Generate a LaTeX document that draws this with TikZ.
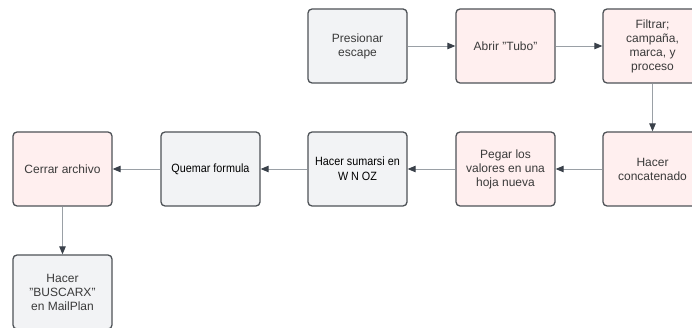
\documentclass[tikz,border=0pt]{standalone}
\usepackage{fontspec}
\setmainfont{Liberation Sans}
\newfontfamily\narrowfont[FakeStretch=0.9]{Liberation Sans}
\usetikzlibrary{arrows.meta}
\definecolor{boxgray}{HTML}{F2F3F5}
\definecolor{boxpink}{HTML}{FFEFEF}
\definecolor{boxline}{HTML}{4E5257}
\definecolor{linkline}{HTML}{9AA0A6}
\definecolor{tipcol}{HTML}{3A414A}
\definecolor{txt}{HTML}{3A3A3A}
\tikzset{
  stepbox/.style={draw=boxline, line width=1.3pt, rounded corners=4pt,
    minimum width=99pt, minimum height=74pt, align=center,
    font=\fontsize{12}{14}\selectfont, text=txt, inner sep=1pt},
  graybox/.style={stepbox, fill=boxgray},
  pinkbox/.style={stepbox, fill=boxpink},
  narrowtxt/.style={font=\narrowfont\fontsize{12}{15}\selectfont, text=black},
  link/.style={draw=linkline, line width=0.9pt,
    -{Triangle[length=8pt,width=6.5pt,color=tipcol]}},
}
\begin{document}
\begin{tikzpicture}[x=1pt,y=-1pt]
\useasboundingbox (0,0) rectangle (692,328);
\fill[white] (0,0) rectangle (692,328);
% row 1
\node[graybox] (presionar) at (357.5,46) {Presionar\\escape};
\node[pinkbox] (abrir) at (505.5,46) {Abrir "Tubo"};
\node[pinkbox] (filtrar) at (652.5,46) {Filtrar;\\campaña,\\marca, y\\proceso};
% row 2
\node[pinkbox] (concat) at (652.5,169) {Hacer\\concatenado};
\node[pinkbox] (pegar) at (505.5,169) {Pegar los\\valores en una\\hoja nueva};
\node[graybox, narrowtxt] (sumarsi) at (357.5,169) {Hacer sumarsi en\\W N OZ};
\node[graybox, narrowtxt] (quemar) at (210.5,169) {Quemar formula};
\node[pinkbox] (cerrar) at (62.5,169) {Cerrar archivo};
% row 3
\node[graybox] (buscarx) at (62.5,292) {Hacer\\"BUSCARX"\\en MailPlan};
% connectors
\draw[link] (presionar) -- (abrir);
\draw[link] (abrir) -- (filtrar);
\draw[link] (filtrar) -- (concat);
\draw[link] (concat) -- (pegar);
\draw[link] (pegar) -- (sumarsi);
\draw[link] (sumarsi) -- (quemar);
\draw[link] (quemar) -- (cerrar);
\draw[link] (cerrar) -- (buscarx);
\end{tikzpicture}
\end{document}
